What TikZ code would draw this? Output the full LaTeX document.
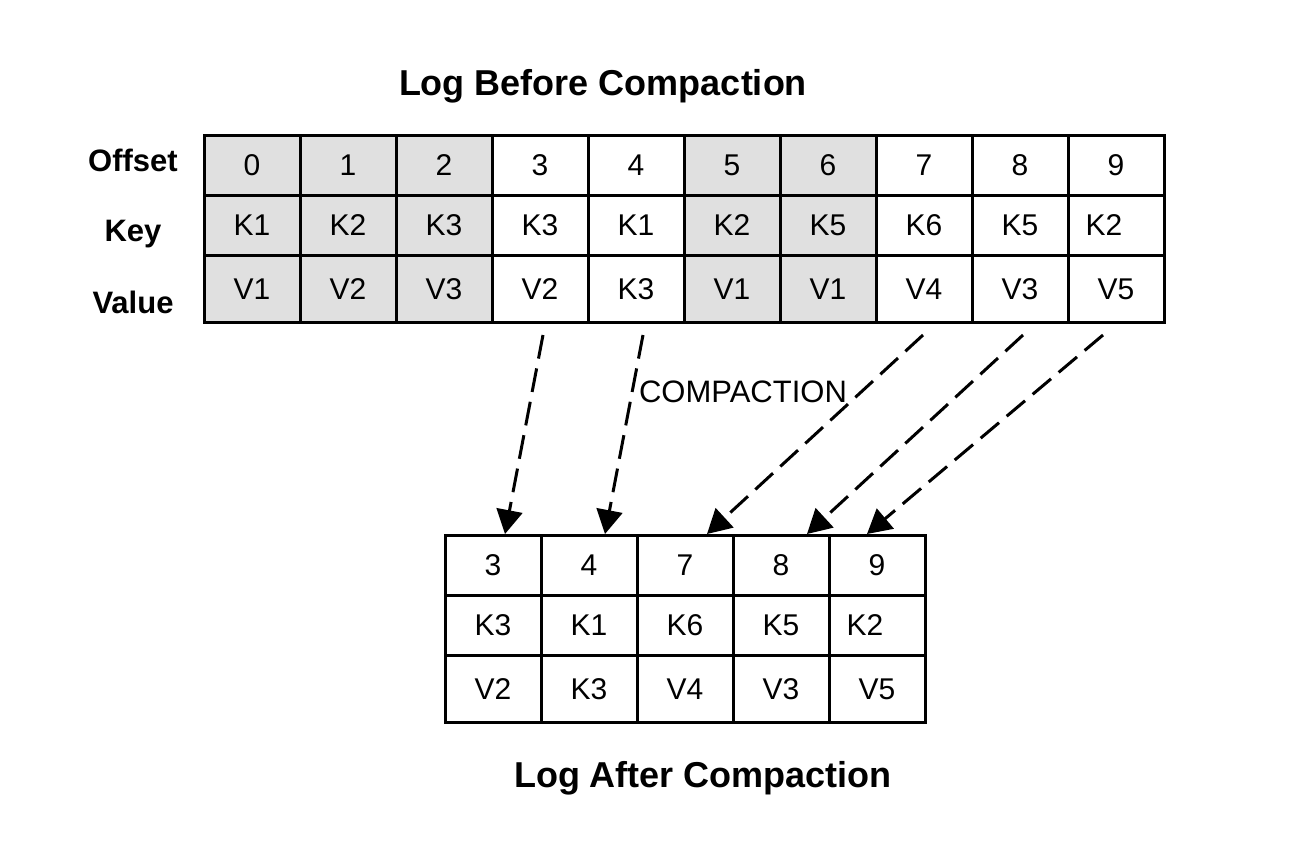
\documentclass[tikz,border=0pt]{standalone}
\usepackage{fontspec}
\setmainfont{Liberation Sans}
\usetikzlibrary{arrows.meta,calc}
\definecolor{cellgrey}{RGB}{224,224,224}
\newcommand\cellfnt{\fontsize{30}{35}\selectfont}
\newcommand\labfnt{\fontsize{31}{36}\selectfont\bfseries}
\newcommand\titfnt{\fontsize{36}{41}\selectfont\bfseries}
\newcommand\cmpfnt{\fontsize{31}{36}\selectfont}
\begin{document}
\begin{tikzpicture}[x=1pt,y=-1pt,
  cell/.style={draw=black, line width=3pt, minimum width=96pt, inner sep=0pt, outer sep=0pt, font=\cellfnt, text height=21.5pt, text depth=0pt},
  rowa/.style={cell, minimum height=60pt},
  rowc/.style={cell, minimum height=67pt},
  rowlab/.style={font=\labfnt, inner sep=0pt},
  title/.style={font=\titfnt, inner sep=0pt},
  move/.style={line width=3pt, dash pattern=on 24pt off 10pt, -{Triangle[length=24pt,width=26pt]}}]
\useasboundingbox (0,0) rectangle (1308,856);
\fill[white] (0,0) rectangle (1308,856);
% titles and labels
\node[title] (tbefore) at (603,86) {Log Before Compaction};
\node[title] (tafter) at (703,778) {Log After Compaction};
\node[rowlab] (loff) at (133,160) {Offset};
\node[rowlab] (lkey) at (133,234) {Key};
\node[rowlab] (lval) at (133,302) {Value};
% top table
\foreach \i/\o/\k/\v/\fc in {0/0/K1/V1/cellgrey,1/1/K2/V2/cellgrey,2/2/K3/V3/cellgrey,3/3/K3/V2/white,4/4/K1/K3/white,5/5/K2/V1/cellgrey,6/6/K5/V1/cellgrey,7/7/K6/V4/white,8/8/K5/V3/white,9/9/K2\hspace*{24pt}/V5/white}{
  \node[rowa, fill=\fc] (to\i) at (252+96*\i,165) {\o};
  \node[rowa, fill=\fc] (tk\i) at (252+96*\i,225) {\k};
  \node[rowc, fill=\fc] (tv\i) at (252+96*\i,288.5) {\v};
}
% bottom table
\foreach \j/\o/\k/\v in {0/3/K3/V2,1/4/K1/K3,2/7/K6/V4,3/8/K5/V3,4/9/K2\hspace*{24pt}/V5}{
  \node[rowa, fill=white] (bo\j) at (493+96*\j,565) {\o};
  \node[rowa, fill=white] (bk\j) at (493+96*\j,625) {\k};
  \node[rowc, fill=white] (bv\j) at (493+96*\j,688.5) {\v};
}
% arrow ends
\coordinate (s1) at ($(tv3.south)+(3,13)$);
\coordinate (s2) at ($(tv4.south)+(7,13)$);
\coordinate (s3) at ($(tv7.south)+(-1,13)$);
\coordinate (s4) at ($(tv8.south)+(3,13)$);
\coordinate (s5) at ($(tv9.south)+(-13,13)$);
\coordinate (e1) at ($(bo0.north)+(12,-1)$);
\coordinate (e2) at ($(bo1.north)+(16,-1)$);
\coordinate (e3) at ($(bo2.north)+(22,-1)$);
\coordinate (e4) at ($(bo3.north)+(26,-1)$);
\coordinate (e5) at ($(bo4.north)+(-10,-1)$);
\foreach \n in {1,...,5}{\draw[move] (s\n) -- (e\n);}
\node[font=\cmpfnt, inner sep=0pt] (cmp) at (743,392) {COMPACTION};
\end{tikzpicture}
\end{document}
